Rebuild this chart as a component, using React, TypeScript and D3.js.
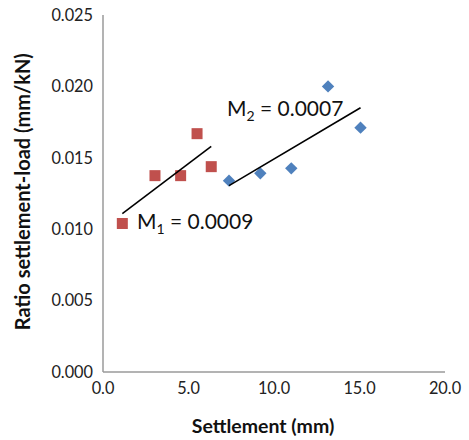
import React from "react";
import * as d3 from "d3";

const series1X = [1.13, 3.04, 4.54, 5.5, 6.33];
const series1Y = [0.0104, 0.01375, 0.01375, 0.01669, 0.01438];
const series2X = [7.37, 9.2, 11.01, 13.16, 15.06];
const series2Y = [0.0134, 0.01391, 0.01426, 0.02, 0.01711];
const xTicks = [0, 5, 10, 15, 20];
const yTicks = [0, 0.005, 0.01, 0.015, 0.02, 0.025];
const label1 = { m: "M", sub: "1", rest: " = 0.0009" };
const label2 = { m: "M", sub: "2", rest: " = 0.0007" };

function fit(xs: number[], ys: number[]) {
  const mx = d3.mean(xs)!;
  const my = d3.mean(ys)!;
  let sxy = 0, sxx = 0;
  xs.forEach((x, i) => {
    sxy += (x - mx) * (ys[i] - my);
    sxx += (x - mx) * (x - mx);
  });
  const slope = sxy / sxx;
  const b = my - slope * mx;
  const x0 = d3.min(xs)!;
  const x1 = d3.max(xs)!;
  return [
    [x0, b + slope * x0],
    [x1, b + slope * x1],
  ] as [number, number][];
}

export default function App() {
  const W = 469, H = 440;
  const x = d3.scaleLinear().domain([0, 20]).range([103, 445]);
  const y = d3.scaleLinear().domain([0, 0.025]).range([372, 15]);
  const line = d3.line<[number, number]>().x((d) => x(d[0])).y((d) => y(d[1]));
  const t1 = fit(series1X, series1Y);
  const t2 = fit(series2X, series2Y);
  const font = "Lato, 'Open Sans', sans-serif";
  const sq = 11;
  const dm = 6.2;
  return (
    <svg width={W} height={H} style={{ position: "absolute", left: 0, top: 0, background: "#fff" }} fontFamily={font}>
      <rect x={0} y={0} width={W} height={H} fill="#fff" />
      <line x1={x(0)} x2={x(0)} y1={y(0.025)} y2={y(0)} stroke="#9a9a9a" strokeWidth={1.5} />
      <line x1={x(0)} x2={x(20)} y1={y(0)} y2={y(0)} stroke="#9a9a9a" strokeWidth={1.5} />
      {yTicks.map((t) => (
        <text key={"y" + t} x={93} y={y(t)} dy="0.36em" textAnchor="end" fontSize={16.3} fill="#222">
          {d3.format(".3f")(t)}
        </text>
      ))}
      {xTicks.map((t) => (
        <text key={"x" + t} x={x(t)} y={394} textAnchor="middle" fontSize={16.3} fill="#222">
          {d3.format(".1f")(t)}
        </text>
      ))}
      <text x={263} y={433} textAnchor="middle" fontSize={19.5} fontWeight="bold" fill="#111">
        Settlement (mm)
      </text>
      <text
        transform={`translate(30,${191.7}) rotate(-90)`}
        textAnchor="middle"
        fontSize={20}
        fontWeight="bold"
        fill="#111"
      >
        Ratio settlement-load (mm/kN)
      </text>
      {series1X.map((v, i) => (
        <rect
          key={"s1" + i}
          x={x(v) - sq / 2}
          y={y(series1Y[i]) - sq / 2}
          width={sq}
          height={sq}
          fill="#C0504D"
        />
      ))}
      {series2X.map((v, i) => {
        const cx = x(v), cy = y(series2Y[i]);
        return (
          <path
            key={"s2" + i}
            d={`M${cx},${cy - dm}L${cx + dm},${cy}L${cx},${cy + dm}L${cx - dm},${cy}Z`}
            fill="#4F81BD"
          />
        );
      })}
      <path d={line(t1)!} stroke="#000" strokeWidth={1.6} fill="none" />
      <path d={line(t2)!} stroke="#000" strokeWidth={1.6} fill="none" />
      <text x={137} y={229} fontSize={21} fill="#111">
        {label1.m}
        <tspan dy={5} fontSize={14}>{label1.sub}</tspan>
        <tspan dy={-5}>{label1.rest}</tspan>
      </text>
      <text x={227} y={116} fontSize={21} fill="#111">
        {label2.m}
        <tspan dy={5} fontSize={14}>{label2.sub}</tspan>
        <tspan dy={-5}>{label2.rest}</tspan>
      </text>
    </svg>
  );
}
